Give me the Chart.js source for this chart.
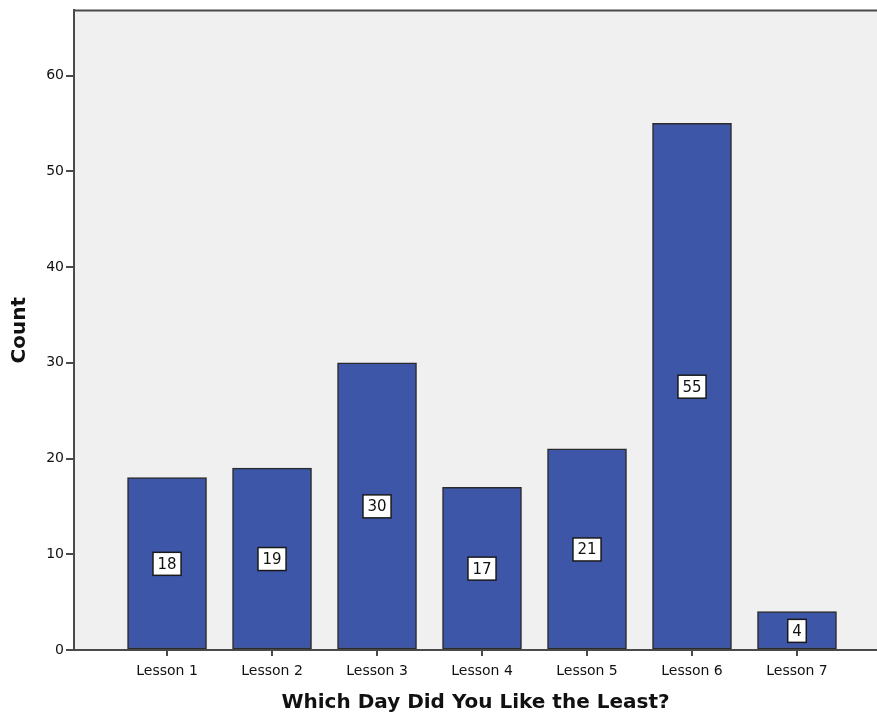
<!DOCTYPE html>
<html>
<head>
<meta charset="utf-8">
<script src="https://cdn.jsdelivr.net/npm/chart.js@4/dist/chart.umd.min.js"></script>
<style>
  html, body { margin: 0; padding: 0; background: #ffffff; }
  #wrap { width: 877px; height: 717px; position: relative; }
</style>
</head>
<body>
<div id="wrap"><canvas id="c" width="877" height="717"></canvas></div>
<script>
const categories = ["Lesson 1", "Lesson 2", "Lesson 3", "Lesson 4", "Lesson 5", "Lesson 6", "Lesson 7"];
const counts = [18, 19, 30, 17, 21, 55, 4];
const yTicks = [0, 10, 20, 30, 40, 50, 60];
const xTitle = "Which Day Did You Like the Least?";
const yTitle = "Count";

const FONT = "'DejaVu Sans', Verdana, sans-serif";

const plotBg = {
  id: 'plotBg',
  beforeDraw(chart) {
    const {ctx, chartArea: a} = chart;
    ctx.save();
    ctx.fillStyle = '#f0f0f0';
    ctx.fillRect(a.left, a.top, a.right - a.left, a.bottom - a.top);
    ctx.strokeStyle = '#4a4a4a';
    ctx.lineWidth = 2;
    ctx.beginPath();
    ctx.moveTo(a.left, a.top);
    ctx.lineTo(a.right, a.top);
    ctx.stroke();
    ctx.restore();
  }
};

const valueBoxes = {
  id: 'valueBoxes',
  afterDatasetsDraw(chart) {
    const {ctx} = chart;
    const xs = chart.scales.x, ys = chart.scales.y;
    ctx.save();
    ctx.font = "15px " + FONT;
    ctx.textAlign = 'center';
    ctx.textBaseline = 'middle';
    counts.forEach((v, i) => {
      const cx = xs.getPixelForValue(i);
      const cy = ys.getPixelForValue(v / 2);
      const txt = String(v);
      const w = ctx.measureText(txt).width + 9;
      const h = 23;
      ctx.fillStyle = '#ffffff';
      ctx.fillRect(cx - w / 2, cy - h / 2, w, h);
      ctx.strokeStyle = '#1a1a1a';
      ctx.lineWidth = 1.5;
      ctx.strokeRect(cx - w / 2, cy - h / 2, w, h);
      ctx.fillStyle = '#111111';
      ctx.fillText(txt, cx, cy + 1);
    });
    ctx.restore();
  }
};

new Chart(document.getElementById('c'), {
  type: 'bar',
  data: {
    datasets: [{
      data: counts.map((v, i) => ({x: i, y: v})),
      backgroundColor: '#3d56a8',
      borderColor: '#2b2b2b',
      borderWidth: 1.5,
      borderSkipped: false,
      barThickness: 79
    }]
  },
  options: {
    responsive: false,
    animation: false,
    events: [],
    layout: { padding: { top: 10, right: 0, bottom: 0, left: 8 } },
    plugins: { legend: { display: false }, tooltip: { enabled: false } },
    scales: {
      x: {
        type: 'linear',
        offset: false,
        min: -0.886,
        max: 6.762,
        afterBuildTicks(scale) { scale.ticks = categories.map((c, i) => ({value: i})); },
        afterFit(scale) { scale.height = 67; },
        ticks: {
          autoSkip: false,
          maxRotation: 0,
          color: '#111',
          font: { family: FONT, size: 14 },
          padding: 7,
          callback: (v) => categories[v]
        },
        grid: { offset: false, drawOnChartArea: false, drawTicks: true, tickLength: 6, color: '#4a4a4a', lineWidth: 2 },
        border: { display: true, color: '#4a4a4a', width: 2 },
        title: {
          display: true,
          text: xTitle,
          color: '#111',
          font: { family: FONT, size: 20, weight: 'bold' },
          padding: { top: 4, bottom: 2 }
        }
      },
      y: {
        min: 0,
        max: 66.8,
        afterBuildTicks(scale) { scale.ticks = yTicks.map(v => ({value: v})); },
        afterFit(scale) { scale.width = 66; },
        ticks: {
          color: '#111',
          font: { family: FONT, size: 14 },
          padding: 2
        },
        grid: { drawOnChartArea: false, drawTicks: true, tickLength: 8, color: '#4a4a4a', lineWidth: 2 },
        border: { display: true, color: '#4a4a4a', width: 2 },
        title: {
          display: true,
          text: yTitle,
          color: '#111',
          font: { family: FONT, size: 20, weight: 'bold' },
          padding: { top: 0, bottom: 0 }
        }
      }
    }
  },
  plugins: [plotBg, valueBoxes]
});
</script>
</body>
</html>
